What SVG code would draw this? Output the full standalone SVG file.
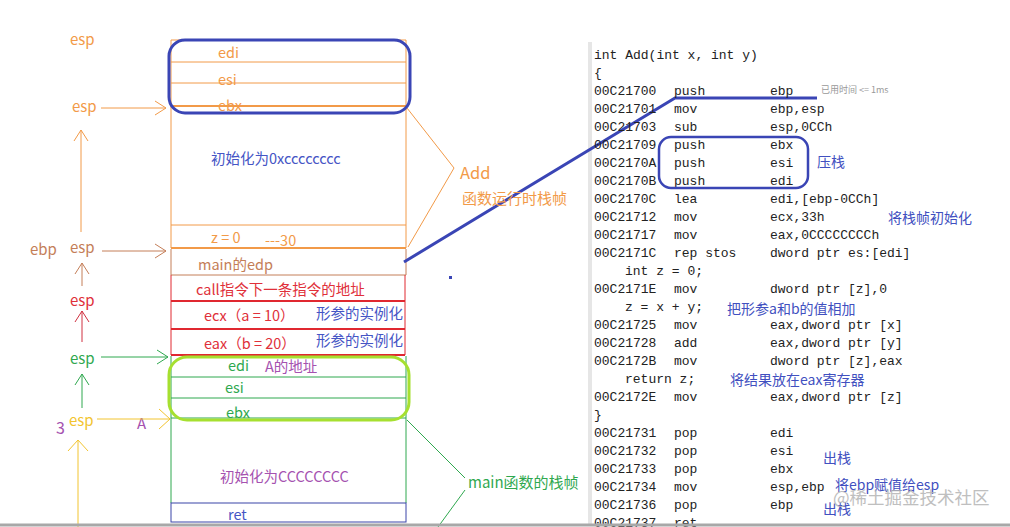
<svg xmlns="http://www.w3.org/2000/svg" width="1010" height="527" viewBox="0 0 1010 527">
<style>
.t{font-family:"Noto Sans CJK SC","Noto Sans",sans-serif;font-size:14.5px}
.l{font-family:"Noto Sans CJK SC","Noto Sans",sans-serif;font-size:15px}
.c{font-family:"Liberation Mono","DejaVu Sans Mono",monospace;font-size:13px;fill:#222}
.n{font-family:"Noto Sans CJK SC","Noto Sans",sans-serif;font-size:14px;fill:#4150c0}
.or{fill:#f29a48}.br{fill:#c47e58}.rd{fill:#e0303a}.gr{fill:#2fa84f}.ye{fill:#f2c430}.pu{fill:#a552b0}.bl{fill:#4555c5}
.so{stroke:#f29a48;fill:none}.sb{stroke:#c47e58;fill:none}.sr{stroke:#e02830;fill:none}.sg{stroke:#2fa84f;fill:none}.sy{stroke:#f2c430;fill:none}.sn{stroke:#3a45a8;fill:none}
</style>
<defs>
<marker id="ao" markerUnits="userSpaceOnUse" markerWidth="14" markerHeight="18" refX="0" refY="0" orient="auto" overflow="visible"><path d="M-11,-7 L0,0 L-11,7" fill="none" stroke="#f29a48" stroke-width="1"/></marker>
<marker id="ab" markerUnits="userSpaceOnUse" markerWidth="14" markerHeight="18" refX="0" refY="0" orient="auto" overflow="visible"><path d="M-11,-7 L0,0 L-11,7" fill="none" stroke="#c47e58" stroke-width="1"/></marker>
<marker id="ar" markerUnits="userSpaceOnUse" markerWidth="14" markerHeight="18" refX="0" refY="0" orient="auto" overflow="visible"><path d="M-11,-7 L0,0 L-11,7" fill="none" stroke="#d03040" stroke-width="1"/></marker>
<marker id="ag" markerUnits="userSpaceOnUse" markerWidth="14" markerHeight="18" refX="0" refY="0" orient="auto" overflow="visible"><path d="M-11,-7 L0,0 L-11,7" fill="none" stroke="#2fa84f" stroke-width="1"/></marker>
<marker id="ay" markerUnits="userSpaceOnUse" markerWidth="14" markerHeight="18" refX="0" refY="0" orient="auto" overflow="visible"><path d="M-11,-10 L0,0 L-11,10" fill="none" stroke="#f2c430" stroke-width="1"/></marker>
</defs>
<rect width="1010" height="527" fill="#fff"/>

<!-- code panel stripe -->
<rect x="588" y="42" width="4" height="482" fill="#e6e6e6"/>

<!-- Add stack frame -->
<g id="add-frame">
<path class="so" d="M171,248 V40 H406 V248" stroke-width="1"/>
<line class="so" x1="171" y1="62" x2="406" y2="62"/>
<line class="so" x1="171" y1="83" x2="406" y2="83"/>
<line class="so" x1="171" y1="106" x2="406" y2="106" stroke-width="2"/>
<line class="so" x1="171" y1="225" x2="406" y2="225"/>
<line class="so" x1="171" y1="248" x2="406" y2="248" stroke-width="2"/>
<text class="t or" x="218" y="58">edi</text>
<text class="t or" x="218" y="85">esi</text>
<text class="t or" x="218" y="111">ebx</text>
<text class="t bl" x="211" y="164">初始化为0xcccccccc</text>
<text class="t or" x="211" y="243">z = 0</text>
<text class="t or" x="265" y="246">---30</text>
</g>
<g id="main-edp">
<path class="sb" d="M171,249 V275 M406,249 V275"/>
<line class="sb" x1="171" y1="275" x2="406" y2="275"/>
<text class="t br" x="198" y="270">main的edp</text>
</g>
<g id="call-ret-addr">
<path class="sr" d="M171,275 V355 M405,275 V355"/>
<line class="sr" x1="171" y1="301" x2="405" y2="301" stroke-width="2"/>
<text class="t rd" x="196" y="295">call指令下一条指令的地址</text>
</g>
<g id="param-a">
<line class="sr" x1="171" y1="329" x2="405" y2="329" stroke-width="2"/>
<text class="t rd" x="204" y="321">ecx（a = 10）</text>
<text class="t bl" x="316" y="319">形参的实例化</text>
</g>
<g id="param-b">
<line class="sr" x1="171" y1="355" x2="405" y2="355" stroke-width="2"/>
<text class="t rd" x="204" y="349">eax（b = 20）</text>
<text class="t bl" x="316" y="346">形参的实例化</text>
</g>
<g id="main-frame">
<path class="sg" d="M171,356 V503 M406,356 V503"/>
<line class="sg" x1="171" y1="377" x2="406" y2="377"/>
<line class="sg" x1="171" y1="398" x2="406" y2="398"/>
<line class="sg" x1="171" y1="418" x2="406" y2="418"/>
<text class="t gr" x="228" y="371">edi</text>
<text class="t pu" x="265" y="372">A的地址</text>
<text class="t gr" x="225" y="393">esi</text>
<text class="t gr" x="226" y="418">ebx</text>
<text class="t pu" x="220" y="482">初始化为CCCCCCCC</text>
</g>
<g id="ret">
<rect class="sn" x="171" y="503" width="235" height="19"/>
<text class="t bl" x="228" y="520">ret</text>
</g>

<!-- highlight outlines -->
<g id="push-highlight">
<rect x="169" y="40" width="241" height="73" rx="16" fill="none" stroke="#3a45b5" stroke-width="3"/>
</g>
<g id="main-highlight">
<rect x="169" y="357" width="240" height="63" rx="18" fill="none" stroke="#a6e030" stroke-width="3"/>
</g>

<!-- left pointers -->
<g id="pointers">
<text class="l or" x="70" y="45">esp</text>
<text class="l or" x="72" y="112">esp</text>
<text class="l br" x="30" y="255">ebp</text>
<text class="l br" x="70" y="253">esp</text>
<text class="l rd" x="70" y="306">esp</text>
<text class="l gr" x="70" y="364">esp</text>
<text class="l pu" x="56" y="434" style="font-size:16px">3</text>
<text class="l ye" x="69" y="426">esp</text>
<text class="l pu" x="137" y="429">A</text>
</g>

<g id="connectors">
<line x1="101" y1="108" x2="166" y2="108" stroke="#f29a48" marker-end="url(#ao)"/>
<line x1="81" y1="232" x2="81" y2="130" stroke="#f29a48" marker-end="url(#ao)"/>
<line x1="102" y1="251" x2="166" y2="251" stroke="#c47e58" marker-end="url(#ab)"/>
<line x1="82" y1="286" x2="82" y2="263" stroke="#c47e58" marker-end="url(#ab)"/>
<line x1="82" y1="342" x2="82" y2="311" stroke="#d03040" marker-end="url(#ar)"/>
<line x1="101" y1="357" x2="168" y2="357" stroke="#2fa84f" marker-end="url(#ag)"/>
<line x1="82" y1="408" x2="82" y2="374" stroke="#2fa84f" marker-end="url(#ag)"/>
<line x1="97" y1="419" x2="170" y2="419" stroke="#f2c430" marker-end="url(#ay)"/>
<line x1="78" y1="527" x2="78" y2="440" stroke="#f2c430" marker-end="url(#ay)"/>
<polyline points="407,108 454,168 408,247" fill="none" stroke="#f29a48" stroke-width="1"/>
<polyline points="407,420 465,478" fill="none" stroke="#2fa84f" stroke-width="1"/>
<polyline points="465,490 438,527" fill="none" stroke="#2fa84f" stroke-width="1"/>
<polyline points="404,262 675,98 817,98" fill="none" stroke="#3a45b5" stroke-width="3"/>
<rect x="449" y="276" width="3" height="3" fill="#3a45b5"/>
</g>

<g id="add-label">
<text x="460" y="179" style="font-family:'Noto Sans CJK SC','Noto Sans',sans-serif;font-size:16.5px" class="or">Add</text>
<text x="462" y="204" style="font-family:'Noto Sans CJK SC','Noto Sans',sans-serif;font-size:15px" class="or">函数运行时栈帧</text>
</g>
<g id="main-label">
<text x="468" y="488" style="font-family:'Noto Sans CJK SC','Noto Sans',sans-serif;font-size:15px" class="gr">main函数的栈帧</text>
</g>

<!-- code listing -->
<g id="code">
<text class="c" x="594" y="58.5">int Add(int x, int y)</text>
<text class="c" x="594" y="76.5">{</text>
<g class="c">
<text y="94.5"><tspan x="594">00C21700</tspan><tspan x="674">push</tspan><tspan x="770">ebp</tspan></text>
<text y="112.5"><tspan x="594">00C21701</tspan><tspan x="674">mov</tspan><tspan x="770">ebp,esp</tspan></text>
<text y="130.5"><tspan x="594">00C21703</tspan><tspan x="674">sub</tspan><tspan x="770">esp,0CCh</tspan></text>
<text y="148.5"><tspan x="594">00C21709</tspan><tspan x="674">push</tspan><tspan x="770">ebx</tspan></text>
<text y="166.5"><tspan x="594">00C2170A</tspan><tspan x="674">push</tspan><tspan x="770">esi</tspan></text>
<text y="184.5"><tspan x="594">00C2170B</tspan><tspan x="674">push</tspan><tspan x="770">edi</tspan></text>
<text y="202.5"><tspan x="594">00C2170C</tspan><tspan x="674">lea</tspan><tspan x="770">edi,[ebp-0CCh]</tspan></text>
<text y="220.5"><tspan x="594">00C21712</tspan><tspan x="674">mov</tspan><tspan x="770">ecx,33h</tspan></text>
<text y="238.5"><tspan x="594">00C21717</tspan><tspan x="674">mov</tspan><tspan x="770">eax,0CCCCCCCCh</tspan></text>
<text y="256.5"><tspan x="594">00C2171C</tspan><tspan x="674">rep stos</tspan><tspan x="770">dword ptr es:[edi]</tspan></text>
<text y="274.5" x="625">int z = 0;</text>
<text y="292.5"><tspan x="594">00C2171E</tspan><tspan x="674">mov</tspan><tspan x="770">dword ptr [z],0</tspan></text>
<text y="310.5" x="625">z = x + y;</text>
<text y="328.5"><tspan x="594">00C21725</tspan><tspan x="674">mov</tspan><tspan x="770">eax,dword ptr [x]</tspan></text>
<text y="346.5"><tspan x="594">00C21728</tspan><tspan x="674">add</tspan><tspan x="770">eax,dword ptr [y]</tspan></text>
<text y="364.5"><tspan x="594">00C2172B</tspan><tspan x="674">mov</tspan><tspan x="770">dword ptr [z],eax</tspan></text>
<text y="382.5" x="625">return z;</text>
<text y="400.5"><tspan x="594">00C2172E</tspan><tspan x="674">mov</tspan><tspan x="770">eax,dword ptr [z]</tspan></text>
<text y="418.5" x="594">}</text>
<text y="436.5"><tspan x="594">00C21731</tspan><tspan x="674">pop</tspan><tspan x="770">edi</tspan></text>
<text y="454.5"><tspan x="594">00C21732</tspan><tspan x="674">pop</tspan><tspan x="770">esi</tspan></text>
<text y="472.5"><tspan x="594">00C21733</tspan><tspan x="674">pop</tspan><tspan x="770">ebx</tspan></text>
<text y="490.5"><tspan x="594">00C21734</tspan><tspan x="674">mov</tspan><tspan x="770">esp,ebp</tspan></text>
<text y="508.5"><tspan x="594">00C21736</tspan><tspan x="674">pop</tspan><tspan x="770">ebp</tspan></text>
<text y="526.5"><tspan x="594">00C21737</tspan><tspan x="674">ret</tspan></text>
</g>
<text x="821" y="93" style="font-family:'Noto Sans CJK SC','Noto Sans',sans-serif;font-size:9px;fill:#999">已用时间 &lt;= 1ms</text>
</g>

<g id="push-box">
<rect x="659" y="137" width="149" height="51" rx="12" fill="none" stroke="#3a45b5" stroke-width="2.5"/>
</g>

<g id="notes">
<text class="n" x="817" y="167">压栈</text>
<text class="n" x="888" y="223">将栈帧初始化</text>
<text class="n" x="727" y="314">把形参a和b的值相加</text>
<text class="n" x="730" y="385">将结果放在eax寄存器</text>
<text class="n" x="823" y="463">出栈</text>
<text class="n" x="835" y="490">将ebp赋值给esp</text>
<text class="n" x="823" y="514">出栈</text>
</g>

<text x="833" y="504" style="font-family:'Noto Sans CJK SC','Noto Sans',sans-serif;font-size:17.5px;fill:#b4b4b4;opacity:0.85">@稀土掘金技术社区</text>

<rect x="0" y="523.5" width="1010" height="3" fill="#a8a8a8"/>
</svg>
